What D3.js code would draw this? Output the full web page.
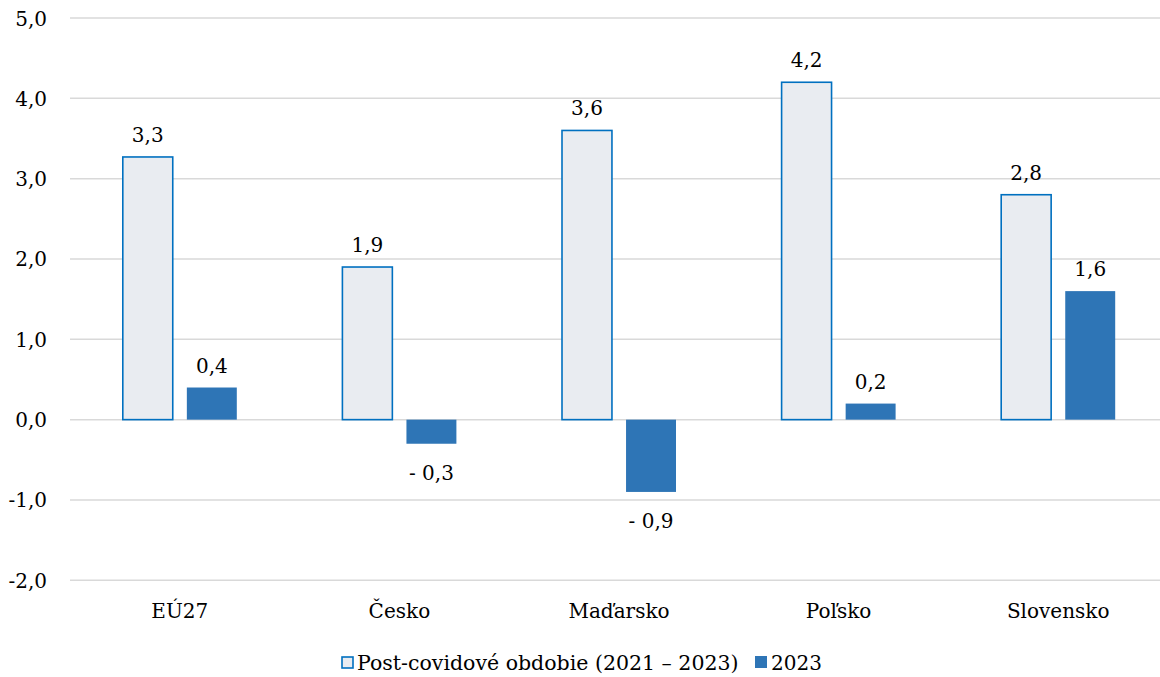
<!DOCTYPE html>
<html><head><meta charset="utf-8">
<script src="https://cdn.jsdelivr.net/npm/d3@7"></script>
<style>
body{margin:0;background:#fff;}
text{font-family:"DejaVu Serif",serif;fill:#000;}
</style></head>
<body><svg id="c" width="1160" height="677"></svg>
<script>
const categories = ["EÚ27","Česko","Maďarsko","Poľsko","Slovensko"];
const seriesNames = ["Post-covidové obdobie (2021 – 2023)","2023"];
const postCovid = [3.27,1.9,3.6,4.2,2.8];
const y2023 = [0.4,-0.3,-0.9,0.2,1.6];
const yTicks = [-2,-1,0,1,2,3,4,5];

const svg = d3.select("#c");
const fmt = v => (v<0?"- ":"") + d3.format(".1f")(Math.abs(v)).replace(".",",");
const tickFmt = v => (v<0?"-":"") + d3.format(".1f")(Math.abs(v)).replace(".",",");

const x = d3.scaleBand().domain(categories).range([70,1168]).padding(0);
const bw = x.bandwidth();
const x1 = d3.scaleBand().domain(seriesNames).range([bw/2-57, bw/2+57]).paddingInner(0.22);
const y = d3.scaleLinear().domain([-2,5]).range([580.3,18]);

// grid
svg.append("g").selectAll("line").data(yTicks).join("line")
  .attr("x1",70).attr("x2",1160).attr("y1",d=>y(d)).attr("y2",d=>y(d))
  .attr("stroke","#d9d9d9").attr("stroke-width",1.5);

// y axis labels
const yAxis = d3.axisLeft(y).tickValues(yTicks).tickFormat(tickFmt).tickSize(0).tickPadding(0);
const ga = svg.append("g").attr("transform","translate(47,0)").call(yAxis);
ga.select(".domain").remove();
ga.selectAll("text").attr("font-family","DejaVu Serif").attr("font-size",20).attr("fill","#000").attr("dy","0.35em");

const data = categories.map((c,i)=>({c, vals:[{s:seriesNames[0],v:postCovid[i]},{s:seriesNames[1],v:y2023[i]}]}));

const g = svg.append("g").selectAll("g").data(data).join("g")
  .attr("transform",d=>`translate(${x(d.c)},0)`);

g.selectAll("rect").data(d=>d.vals).join("rect")
  .attr("x",d=>x1(d.s)).attr("width",x1.bandwidth())
  .attr("y",d=>y(Math.max(0,d.v))).attr("height",d=>Math.abs(y(d.v)-y(0)))
  .attr("fill",d=>d.s===seriesNames[0]?"#e9ecf1":"#2e75b6")
  .attr("stroke",d=>d.s===seriesNames[0]?"#0070c0":"none")
  .attr("stroke-width",1.6);

g.selectAll("text.val").data(d=>d.vals).join("text").attr("class","val")
  .attr("x",d=>x1(d.s)+x1.bandwidth()/2)
  .attr("y",d=>d.v>=0? y(d.v)-15 : y(d.v)+36)
  .attr("text-anchor","middle").attr("font-size",20)
  .text(d=>fmt(d.v));

// category labels
svg.append("g").selectAll("text").data(categories).join("text")
  .attr("x",d=>x(d)+bw/2).attr("y",618).attr("text-anchor","middle").attr("font-size",20)
  .text(d=>d);

// legend
const leg = svg.append("g");
leg.append("rect").attr("x",342).attr("y",657).attr("width",11).attr("height",11)
  .attr("fill","#e9ecf1").attr("stroke","#0070c0").attr("stroke-width",1.6);
leg.append("text").attr("x",357).attr("y",670).attr("font-size",20.5).text(seriesNames[0]);
leg.append("rect").attr("x",755).attr("y",656).attr("width",12).attr("height",12).attr("fill","#2e75b6");
leg.append("text").attr("x",771).attr("y",670).attr("font-size",20).text(seriesNames[1]);
</script></body></html>
